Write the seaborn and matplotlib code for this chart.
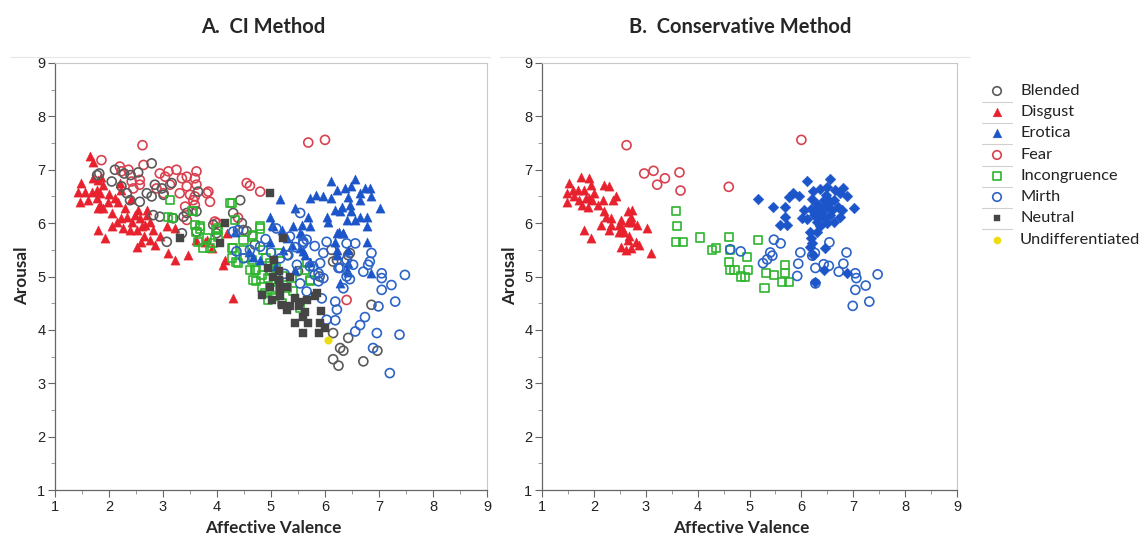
import matplotlib
matplotlib.use("Agg")
import matplotlib.pyplot as plt
from matplotlib.lines import Line2D
from matplotlib.ticker import MultipleLocator
import seaborn as sns
import pandas as pd

# ---------------- data (valence, arousal) ----------------
categories = ["Blended", "Disgust", "Erotica", "Fear", "Incongruence",
              "Mirth", "Neutral", "Undifferentiated"]

a_blended = [(1.82,6.93),(1.78,6.90),(2.11,7.00),(2.28,6.93),(2.54,6.95),(2.79,7.12),(2.05,6.78),
             (2.23,6.69),(2.33,6.56),(2.39,6.43),(2.57,6.40),(2.70,6.56),(2.79,6.50),(2.85,6.72),
             (2.98,6.65),(3.01,6.53),(3.16,6.75),(3.65,6.59),(2.82,6.15),(2.94,6.12),(3.19,6.09),
             (3.38,6.12),(3.44,6.19),(3.62,6.22),(3.35,5.81),(3.07,5.65),(3.93,5.97),(4.43,6.43),
             (4.30,6.19),(4.46,6.00),(4.49,5.87),(3.99,5.81),(3.62,5.84),(6.12,5.50),(6.22,5.31),
             (6.43,5.40),(6.86,4.47),(6.15,3.94),(6.43,3.85),(6.28,3.66),(6.34,3.61),(6.15,3.45),
             (6.25,3.33),(6.71,3.41),(6.97,3.61),(6.46,5.44),(6.15,5.28),(4.55,5.85),(4.70,5.60),
             (5.30,5.40),(5.50,5.10),(5.90,5.00),(2.40,6.90)]
a_disgust = [(1.65,7.25),(1.70,7.15),(1.49,6.75),(1.43,6.59),(1.46,6.40),(1.62,6.43),(1.68,6.59),
             (1.77,6.62),(1.71,6.84),(1.80,6.81),(1.86,6.87),(1.89,6.72),(1.83,6.56),(1.77,6.47),
             (1.83,6.34),(1.89,6.28),(1.99,6.40),(2.05,6.19),(2.11,6.47),(2.20,6.75),(2.23,6.62),
             (2.17,6.40),(2.30,6.28),(2.23,6.09),(2.14,6.03),(2.33,6.12),(2.26,5.90),(2.42,6.03),
             (2.48,6.15),(2.54,6.25),(2.57,6.09),(2.61,5.94),(2.51,5.87),(2.67,5.97),(2.70,6.15),
             (2.76,6.03),(2.82,5.87),(2.64,5.75),(2.76,5.69),(2.85,5.59),(2.51,5.56),(2.39,5.87),
             (1.80,5.87),(1.93,5.72),(3.07,5.94),(3.22,5.90),(3.10,5.44),(3.22,5.31),(3.47,5.40),
             (3.62,5.69),(3.78,5.65),(3.90,5.53),(4.15,5.31),(4.12,5.22),(2.70,6.25),(4.30,4.59),
             (3.81,5.69),(4.18,5.81),(1.56,6.59),(1.80,6.28),(2.00,6.55),(2.40,6.45),(2.60,5.65),
             (2.95,5.75),(2.05,5.95)]
a_erotica = [(6.11,6.79),(6.56,6.82),(5.17,6.45),(5.44,6.29),(5.72,6.47),(5.83,6.53),(5.96,6.51),
             (6.22,6.62),(6.37,6.65),(6.49,6.69),(6.65,6.56),(6.74,6.65),(6.83,6.65),(7.02,6.28),
             (6.12,6.47),(6.43,6.49),(6.65,6.43),(6.86,6.50),(6.31,6.31),(6.46,6.34),(6.19,6.25),
             (6.28,6.22),(6.49,6.22),(6.65,6.12),(6.77,6.12),(6.56,6.06),(6.40,6.06),(6.03,6.12),
             (5.69,6.12),(5.57,5.97),(5.41,5.95),(5.72,5.95),(6.06,6.03),(6.77,5.95),(6.25,5.84),
             (6.34,5.81),(4.98,6.12),(5.04,5.95),(5.57,5.78),(6.19,5.65),(6.77,5.65),(6.86,5.06),
             (6.28,4.87),(6.40,5.12),(6.43,5.50),(6.22,5.50),(5.01,5.97),(5.20,5.87),(5.29,5.72),
             (5.38,5.59),(5.23,5.50),(5.54,5.53),(5.60,5.47),(5.54,5.81),(5.44,5.12),(4.98,5.65),
             (4.33,5.84),(4.80,5.31),(4.67,5.37),(6.22,5.82),(6.33,5.82),(6.22,5.40),(6.43,5.25),
             (6.43,5.09),(5.63,5.40),(5.72,5.28),(4.60,5.45),(5.10,5.20)]
a_fear = [(2.62,7.46),(1.86,7.18),(2.20,7.06),(2.36,7.00),(2.64,7.09),(2.94,6.93),(3.10,6.97),
          (3.25,7.00),(3.35,6.84),(3.44,6.87),(3.62,6.97),(3.59,6.84),(3.62,6.72),(3.44,6.69),
          (3.31,6.56),(3.50,6.53),(3.59,6.50),(3.81,6.56),(3.87,6.40),(3.56,6.43),(3.59,6.34),
          (3.41,6.31),(3.13,6.72),(3.01,6.56),(2.88,6.65),(2.57,6.72),(2.45,6.65),(2.57,6.81),
          (2.42,6.78),(3.04,6.87),(4.55,6.75),(4.61,6.70),(4.80,6.59),(4.00,6.00),(4.39,6.10),
          (3.44,6.06),(2.23,6.97),(5.69,7.51),(6.00,7.56),(6.40,4.56),(3.84,6.59),(3.96,6.03)]
a_incongruence = [(3.13,6.43),(3.10,6.12),(3.16,6.09),(3.56,6.22),(3.59,5.97),(3.69,5.90),(3.81,5.72),
                  (3.65,5.65),(3.75,5.53),(3.87,5.53),(4.02,5.75),(4.27,6.37),(4.33,6.06),(4.64,5.75),
                  (4.80,5.90),(4.27,5.34),(4.36,5.28),(4.61,5.12),(4.73,5.12),(4.49,5.50),(4.80,5.94),
                  (4.67,5.78),(4.49,5.69),(4.30,5.53),(4.39,5.25),(4.64,5.31),(4.70,5.12),(4.73,4.91),
                  (4.83,4.81),(4.95,4.97),(5.01,4.75),(4.95,4.56),(4.89,4.69),(5.07,4.63),(5.20,4.50),
                  (5.29,4.78),(5.41,4.72),(5.54,4.41),(5.72,4.91),(5.38,4.97),(5.14,5.44),(3.99,5.87),
                  (3.93,5.62),(4.86,5.50),(4.98,5.25),(5.10,5.16),(4.83,5.03),(4.67,4.94),(5.23,5.00),
                  (4.52,5.34),(5.66,5.25),(5.72,4.94),(5.63,5.12),(3.53,6.22),(4.24,6.37),(3.69,5.94),
                  (3.62,5.84),(4.02,5.90),(4.27,5.53),(5.00,5.10),(5.15,4.90),(4.90,5.35)]
a_mirth = [(5.81,5.57),(5.97,5.44),(6.40,5.62),(6.56,5.62),(6.86,5.44),(5.91,5.25),(6.28,5.16),
           (6.52,5.22),(6.80,5.22),(6.71,5.09),(7.05,5.06),(7.05,4.97),(7.48,5.03),(7.05,4.75),
           (7.23,4.84),(6.46,4.95),(6.34,4.78),(5.66,4.72),(5.94,4.59),(6.19,4.53),(6.22,4.38),
           (6.99,4.44),(7.30,4.53),(6.74,4.24),(6.19,4.18),(6.03,4.19),(6.65,4.09),(6.56,3.97),
           (6.96,3.94),(7.38,3.91),(5.66,5.69),(5.59,5.61),(5.72,5.19),(5.88,5.06),(5.97,4.97),
           (6.89,3.66),(7.20,3.19),(5.54,6.19),(6.03,5.65),(5.10,5.90),(5.35,5.75),(5.60,5.65),
           (5.78,5.19),(5.48,5.22),(5.32,5.40),(5.17,5.34),(5.54,4.87),(4.30,5.84),(4.49,5.34),
           (4.61,5.50),(4.80,5.56),(4.36,5.47),(4.39,5.87),(6.40,5.31),(6.40,5.00),(6.25,5.16),
           (5.81,5.03),(5.88,4.91),(6.83,5.28),(5.00,5.45),(5.25,5.05),(4.90,5.70),(5.45,5.55)]
a_neutral = [(4.98,6.56),(4.15,6.00),(4.06,5.62),(5.23,5.72),(4.95,5.16),(5.04,5.00),(5.14,4.94),
             (4.98,4.81),(5.17,4.78),(5.29,4.81),(4.83,4.66),(5.01,4.56),(5.17,4.63),(5.20,4.47),
             (5.29,4.38),(5.35,4.44),(5.44,4.59),(5.54,4.53),(5.51,4.44),(5.63,4.34),(5.60,4.25),
             (5.69,4.13),(5.44,4.13),(5.60,3.94),(5.88,3.94),(5.91,4.13),(6.00,4.03),(5.92,4.36),
             (5.81,4.63),(5.85,4.70),(5.66,4.56),(3.31,5.72),(5.05,5.30),(5.15,5.10),(5.35,5.00)]
a_undifferentiated = [(6.06,3.81)]

b_disgust = [(1.53,6.75),(1.49,6.56),(1.48,6.40),(1.59,6.62),(1.69,6.62),(1.75,6.87),(1.81,6.62),
             (1.91,6.84),(1.94,6.72),(1.85,6.47),(1.78,6.34),(1.88,6.31),(2.01,6.56),(1.97,6.43),
             (2.07,6.34),(2.17,6.43),(2.20,6.72),(2.29,6.69),(2.36,6.43),(2.42,6.50),(2.20,6.22),
             (2.23,6.12),(2.13,5.97),(2.33,5.97),(2.29,5.87),(2.33,6.09),(2.52,6.06),(2.49,5.97),
             (2.55,5.90),(2.49,5.84),(2.65,6.22),(2.74,6.25),(2.65,6.03),(2.71,6.12),(2.74,6.03),
             (2.84,5.97),(2.58,5.84),(2.68,5.75),(2.65,5.69),(2.62,5.50),(2.52,5.56),(2.71,5.53),
             (2.81,5.65),(2.87,5.59),(3.03,5.90),(3.10,5.44),(1.81,5.87),(1.94,5.72),(1.62,6.50),
             (1.72,6.43),(1.91,6.47)]
b_erotica = [(5.16,6.45),(5.45,6.31),(5.69,6.30),(5.58,5.96),(5.72,5.96),(5.69,6.11),(5.76,6.49),
             (5.84,6.56),(5.96,6.51),(6.11,6.79),(6.22,6.61),(6.35,6.64),(6.49,6.68),(6.56,6.82),
             (6.48,6.53),(6.65,6.62),(6.74,6.56),(6.81,6.65),(6.87,6.50),(6.62,6.43),(6.43,6.43),
             (6.19,6.26),(6.27,6.25),(6.37,6.28),(6.48,6.30),(6.59,6.25),(6.78,6.25),(7.01,6.28),
             (6.01,6.09),(6.10,6.07),(6.35,6.15),(6.43,6.09),(6.56,6.15),(6.62,6.03),(6.75,6.12),
             (6.30,6.03),(6.49,6.00),(6.17,5.84),(6.30,5.84),(6.19,5.72),(6.21,5.62),(6.17,5.56),
             (6.46,5.53),(6.22,5.40),(6.43,5.12),(6.88,5.06),(6.27,4.89),(6.51,6.43),(6.30,6.35),
             (6.40,6.20),(6.55,6.40),(6.20,6.45),(6.05,6.25),(6.70,6.30),(6.35,5.95),(6.25,6.15)]
b_fear = [(2.97,6.93),(3.15,6.98),(3.22,6.72),(3.37,6.84),(3.65,6.95),(3.67,6.61),(4.60,6.68),
          (2.63,7.46),(6.00,7.56)]
b_incongruence = [(3.58,6.23),(3.61,5.95),(3.59,5.65),(3.72,5.64),(4.04,5.73),(4.28,5.50),(4.35,5.54),
                  (4.60,5.74),(4.60,5.28),(4.62,5.12),(4.96,5.37),(4.71,5.12),(4.83,5.00),(4.92,4.99),
                  (4.97,5.12),(5.16,5.69),(5.31,5.07),(5.47,5.03),(5.68,5.22),(5.68,5.06),(5.63,4.89),
                  (5.76,4.89),(5.29,4.78),(4.63,5.50)]
b_mirth = [(4.63,5.51),(4.83,5.47),(5.47,5.69),(5.60,5.62),(5.40,5.45),(5.44,5.39),(5.34,5.32),
           (5.26,5.25),(5.98,5.45),(6.21,5.39),(6.26,5.44),(6.54,5.64),(6.87,5.45),(5.94,5.24),
           (5.92,5.01),(6.27,5.16),(6.43,5.23),(6.53,5.20),(6.72,5.09),(6.81,5.24),(7.04,5.06),
           (7.06,4.97),(7.47,5.04),(7.24,4.83),(7.04,4.75),(7.31,4.53),(6.99,4.45),(6.27,4.87)]

x_ticks = [1, 2, 3, 4, 5, 6, 7, 8, 9]
y_ticks = [1, 2, 3, 4, 5, 6, 7, 8, 9]

# ---------------- styles ----------------
STYLE = {
    "Blended":          dict(marker="o", color="#5a5a5a", filled=False, s=42),
    "Disgust":          dict(marker="^", color="#e8212e", filled=True, s=44),
    "Erotica":          dict(marker="^", color="#1c55c9", filled=True, s=44),
    "Fear":             dict(marker="o", color="#d9414f", filled=False, s=42),
    "Incongruence":     dict(marker="s", color="#2eb52e", filled=False, s=34),
    "Mirth":            dict(marker="o", color="#2c63c6", filled=False, s=42),
    "Neutral":          dict(marker="s", color="#454545", filled=True, s=28),
    "Undifferentiated": dict(marker="o", color="#ecdc10", filled=True, s=30),
}

sns.set_style("white")
plt.rcParams["font.family"] = ["Liberation Sans", "DejaVu Sans"]

fig = plt.figure(figsize=(11.41, 5.37), dpi=100)
W, H = 1141, 537
axA = fig.add_axes([55 / W, 1 - 490 / H, 432 / W, 427 / H])
axB = fig.add_axes([542 / W, 1 - 490 / H, 415 / W, 427 / H])


def frame(pairs):
    return pd.DataFrame(pairs, columns=["valence", "arousal"])


def draw(ax, cat, pts, marker=None, s=None):
    st = STYLE[cat]
    df = frame(pts)
    m = marker or st["marker"]
    size = s or st["s"]
    if st["filled"]:
        sns.scatterplot(data=df, x="valence", y="arousal", ax=ax, marker=m, s=size,
                        color=st["color"], edgecolor=st["color"], linewidth=0.3, legend=False)
    else:
        sns.scatterplot(data=df, x="valence", y="arousal", ax=ax, marker=m, s=size,
                        facecolors="none", edgecolor=st["color"], linewidth=1.2, legend=False)


# panel A
draw(axA, "Disgust", a_disgust)
draw(axA, "Fear", a_fear)
draw(axA, "Blended", a_blended)
draw(axA, "Incongruence", a_incongruence)
draw(axA, "Erotica", a_erotica)
draw(axA, "Mirth", a_mirth)
draw(axA, "Neutral", a_neutral)
draw(axA, "Undifferentiated", a_undifferentiated)

# panel B
draw(axB, "Disgust", b_disgust)
draw(axB, "Fear", b_fear)
draw(axB, "Incongruence", b_incongruence)
draw(axB, "Mirth", b_mirth)
draw(axB, "Erotica", b_erotica, marker="D", s=30)

for ax in (axA, axB):
    ax.set_xlim(1, 9)
    ax.set_ylim(1, 9)
    ax.set_xticks(x_ticks)
    ax.set_yticks(y_ticks)
    ax.xaxis.set_minor_locator(MultipleLocator(0.5))
    ax.yaxis.set_minor_locator(MultipleLocator(0.5))
    ax.tick_params(which="major", direction="out", length=5, width=0.8, color="#666666",
                   labelsize=10.5, labelcolor="#222222", pad=2,
                   bottom=True, left=True)
    ax.tick_params(which="minor", direction="out", length=3, width=0.6, color="#888888",
                   bottom=True, left=True)
    ax.set_xlabel("")
    ax.set_ylabel("")
    for sp in ("left", "bottom"):
        ax.spines[sp].set_color("#666666")
        ax.spines[sp].set_linewidth(0.9)
    for sp in ("top", "right"):
        ax.spines[sp].set_color("#c8c8c8")
        ax.spines[sp].set_linewidth(0.8)

tfont = ["Lato", "DejaVu Sans"]
fig.text(263 / W, 1 - 27 / H, "A.  CI Method", ha="center", va="center",
         fontsize=14.5, fontweight="bold", family=tfont)
fig.text(740 / W, 1 - 27 / H, "B.  Conservative Method", ha="center", va="center",
         fontsize=14.5, fontweight="bold", family=tfont)
for cx in (273, 741):
    fig.text(cx / W, 1 - 528 / H, "Affective Valence", ha="center", va="center",
             fontsize=12.3, fontweight="bold", family=tfont)
for cx in (22, 510):
    fig.text(cx / W, 1 - 276 / H, "Arousal", ha="center", va="center", rotation=90,
             fontsize=12.3, fontweight="bold", family=tfont)

# faint panel borders at top
fig.add_artist(Line2D([10 / W, 490 / W], [1 - 57 / H] * 2, color="#e6e6e6", lw=0.8))
fig.add_artist(Line2D([500 / W, 970 / W], [1 - 57 / H] * 2, color="#e6e6e6", lw=0.8))

# legend
leg = fig.add_axes([0, 0, 1, 1], facecolor="none")
leg.set_xlim(0, W)
leg.set_ylim(H, 0)
leg.axis("off")
ys = [91, 112, 133, 155, 176, 197, 218, 240]
for cat, yy in zip(categories, ys):
    st = STYLE[cat]
    if st["filled"]:
        leg.scatter([997], [yy], marker=st["marker"], s=st["s"] * 0.9, color=st["color"],
                    linewidths=0.3)
    else:
        leg.scatter([997], [yy], marker=st["marker"], s=st["s"] * 0.9, facecolors="none",
                    edgecolors=st["color"], linewidths=1.2)
    leg.text(1020, yy, cat, ha="left", va="center", fontsize=11.8, color="#222222",
             family=["Lato", "DejaVu Sans"])
for yy in ys[:-1]:
    leg.plot([982, 1012], [yy + 10.5, yy + 10.5], color="#d0d0d0", lw=0.8)

fig.savefig("out.png", dpi=100)
